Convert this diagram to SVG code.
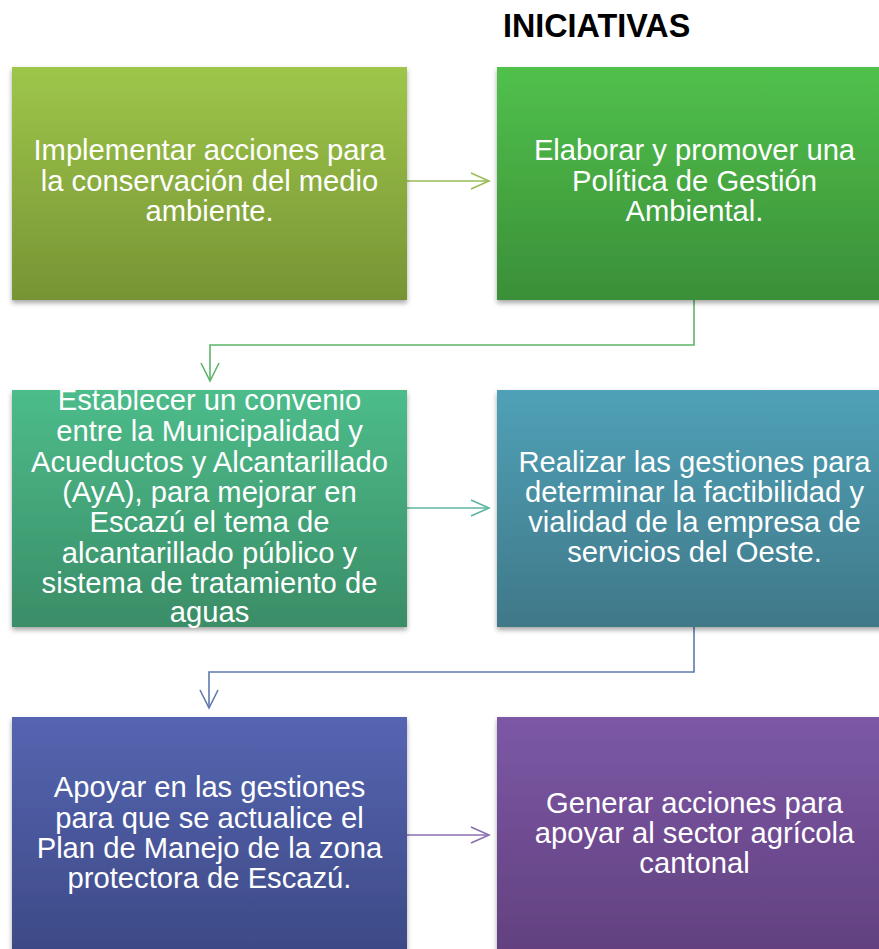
<svg xmlns="http://www.w3.org/2000/svg" width="879" height="949" viewBox="0 0 879 949">
<defs>
<linearGradient id="g1" x1="0" y1="0" x2="0" y2="1"><stop offset="0" stop-color="#9EC64A"/><stop offset="1" stop-color="#779435"/></linearGradient>
<linearGradient id="g2" x1="0" y1="0" x2="0" y2="1"><stop offset="0" stop-color="#51C14C"/><stop offset="1" stop-color="#3A8F38"/></linearGradient>
<linearGradient id="g3" x1="0" y1="0" x2="0" y2="1"><stop offset="0" stop-color="#4DBC8B"/><stop offset="1" stop-color="#3A8D67"/></linearGradient>
<linearGradient id="g4" x1="0" y1="0" x2="0" y2="1"><stop offset="0" stop-color="#50A1B7"/><stop offset="1" stop-color="#3F7888"/></linearGradient>
<linearGradient id="g5" x1="0" y1="0" x2="0" y2="1"><stop offset="0" stop-color="#5565B1"/><stop offset="1" stop-color="#3D4985"/></linearGradient>
<linearGradient id="g6" x1="0" y1="0" x2="0" y2="1"><stop offset="0" stop-color="#7C58A6"/><stop offset="1" stop-color="#62407E"/></linearGradient>
<filter id="sh" x="-5%" y="-5%" width="110%" height="115%"><feDropShadow dx="0" dy="3" stdDeviation="2.5" flood-color="#000" flood-opacity="0.35"/></filter>
</defs>
<style>
.box{filter:url(#sh)}
.t{font-family:"Liberation Sans",Arial,sans-serif;font-size:29.2px;fill:#fff;text-anchor:middle}
.title{font-family:"Liberation Sans",Arial,sans-serif;font-size:32.3px;font-weight:bold;fill:#000}
.c{fill:none;stroke-width:1.6}
</style>
<text class="title" x="503" y="37">INICIATIVAS</text>
<g id="connectors">
<g stroke="#9BBB59" class="c"><path d="M407 181H489"/><path d="M471 173L489 181L471 189"/></g>
<g stroke="#5BB56A" class="c"><path d="M694 300V345H210V381"/><path d="M201 363L210 381L219 363"/></g>
<g stroke="#5CB6A2" class="c"><path d="M407 508H489"/><path d="M471 500L489 508L471 516"/></g>
<g stroke="#6079B0" class="c"><path d="M694 627V672H209V708"/><path d="M200 690L209 708L218 690"/></g>
<g stroke="#8A6FB0" class="c"><path d="M407 835H489"/><path d="M471 827L489 835L471 843"/></g>
</g>
<g id="n1"><rect class="box" x="12" y="67" width="395" height="233" fill="url(#g1)"/>
<text class="t"><tspan x="209.5" y="160">Implementar acciones para</tspan><tspan x="209.5" y="190.5">la conservación del medio</tspan><tspan x="209.5" y="221">ambiente.</tspan></text></g>
<g id="n2"><rect class="box" x="497" y="67" width="395" height="233" fill="url(#g2)"/>
<text class="t"><tspan x="694.5" y="160">Elaborar y promover una</tspan><tspan x="694.5" y="190.5">Política de Gestión</tspan><tspan x="694.5" y="221">Ambiental.</tspan></text></g>
<g id="n3"><rect class="box" x="12" y="390" width="395" height="237" fill="url(#g3)"/>
<text class="t"><tspan x="209.5" y="410">Establecer un convenio</tspan><tspan x="209.5" y="441">entre la Municipalidad y</tspan><tspan x="209.5" y="471.5">Acueductos y Alcantarillado</tspan><tspan x="209.5" y="501.5">(AyA), para mejorar en</tspan><tspan x="209.5" y="532">Escazú el tema de</tspan><tspan x="209.5" y="562.5">alcantarillado público y</tspan><tspan x="209.5" y="592.5">sistema de tratamiento de</tspan><tspan x="209.5" y="622">aguas</tspan></text></g>
<g id="n4"><rect class="box" x="497" y="390" width="395" height="237" fill="url(#g4)"/>
<text class="t"><tspan x="694.5" y="471.5">Realizar las gestiones para</tspan><tspan x="694.5" y="501.5">determinar la factibilidad y</tspan><tspan x="694.5" y="531.5">vialidad de la empresa de</tspan><tspan x="694.5" y="561.5">servicios del Oeste.</tspan></text></g>
<g id="n5"><rect class="box" x="12" y="717" width="395" height="240" fill="url(#g5)"/>
<text class="t"><tspan x="209.5" y="797">Apoyar en las gestiones</tspan><tspan x="209.5" y="827.5">para que se actualice el</tspan><tspan x="209.5" y="858">Plan de Manejo de la zona</tspan><tspan x="209.5" y="888">protectora de Escazú.</tspan></text></g>
<g id="n6"><rect class="box" x="497" y="717" width="395" height="240" fill="url(#g6)"/>
<text class="t"><tspan x="694.5" y="813">Generar acciones para</tspan><tspan x="694.5" y="843">apoyar al sector agrícola</tspan><tspan x="694.5" y="873">cantonal</tspan></text></g>
</svg>
